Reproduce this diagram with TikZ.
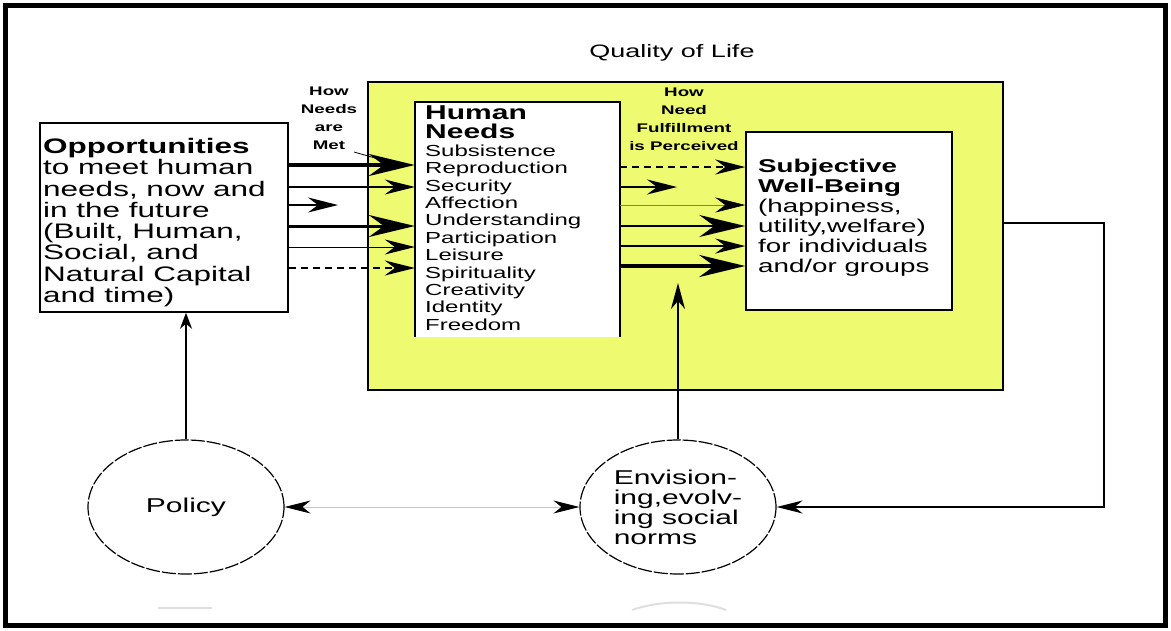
\documentclass[tikz,border=0pt]{standalone}
\usepackage{fontspec}
\setmainfont{Liberation Sans}[FakeStretch=1.5]
\usetikzlibrary{arrows.meta,shapes.geometric}
\definecolor{qolyellow}{RGB}{238,250,112}

\begin{document}
\begin{tikzpicture}[x=1pt,y=-1pt,
    box/.style={draw, line width=1.5pt, fill=white, inner sep=0pt},
    oval/.style={ellipse, draw, line width=1.2pt, dash pattern=on 14pt off 2pt,
      fill=white, minimum width=196pt, minimum height=134pt, inner sep=0pt, align=left},
    txt/.style={anchor=north west, inner sep=0pt, align=left},
    lbl/.style={font=\fontsize{12.5}{18}\selectfont\bfseries, align=center, inner sep=0pt},
    bigtip/.style={-{Stealth[length=46pt,width=22pt,inset=15pt]}},
    midtip/.style={-{Stealth[length=30pt,width=15pt,inset=10pt]}},
    smalltip/.style={-{Stealth[length=16pt,width=12pt,inset=5pt]}}]
    \useasboundingbox (0,0) rectangle (1171,630);
    % Frame
    \draw[line width=5pt] (5.5,5.5) rectangle (1165.5,625.5);
    % Faint marks at the bottom
    \draw[gray!25, line width=2pt] (158,608) -- (212,608);
    \draw[gray!25, line width=2pt] (632,610) .. controls (660,600) and (700,600) .. (726,610);
    % Quality of life area
    \node[draw, line width=1.5pt, fill=qolyellow, minimum width=635pt, minimum height=308pt, inner sep=0pt] (qol) at (685.5,236) {};
    \node[inner sep=0pt, font=\fontsize{18}{20}\selectfont] (title) at (672,53) {Quality of Life};
    % Boxes
    \node[box, minimum width=248pt, minimum height=189pt] (opp) at (164,217.5) {};
    \node[fill=white, inner sep=0pt, minimum width=205pt, minimum height=235pt] (needs) at (517.5,219.5) {};
    \draw[line width=1.5pt] (needs.south west) -- (needs.north west) -- (needs.north east) -- (needs.south east);
    \node[box, minimum width=206pt, minimum height=178pt] (swb) at (849,221) {};
    % Box texts
    \node[txt, font=\fontsize{21}{21.3}\selectfont] (opptxt) at (43,138) {%
      \textbf{Opportunities}\\to meet human\\needs, now and\\in the future\\(Built, Human,\\Social, and\\Natural Capital\\and time)};
    \node[txt, font=\fontsize{20}{19}\selectfont\bfseries] (needshd) at (425,105.5) {Human\\Needs};
    \node[txt, font=\fontsize{16}{17.4}\selectfont] (needslist) at (425,144.5) {%
      Subsistence\\Reproduction\\Security\\Affection\\Understanding\\Participation\\Leisure\\Spirituality\\Creativity\\Identity\\Freedom};
    \node[txt, font=\fontsize{18.5}{20}\selectfont] (swbtxt) at (758,158.5) {%
      \textbf{Subjective}\\\textbf{Well-Being}\\(happiness,\\utility,welfare)\\for individuals\\and/or groups};
    % Labels
    \node[lbl] (metlbl) at (329,118) {How\\Needs\\are\\Met};
    \node[lbl] (perclbl) at (684,119) {How\\Need\\Fulfillment\\is Perceived};
    % Ovals
    \node[oval, font=\fontsize{20}{20}\selectfont] (pol) at (186,507) {Policy};
    \node[oval, font=\fontsize{20}{20}\selectfont] (env) at (678,507) {Envision-\\ing,evolv-\\ing social\\norms};
    % Free ends
    \coordinate (oppshort) at (338,205);
    \coordinate (needsshort) at (677,187);
    \coordinate (metfoot) at (354,152);
    \coordinate (methead) at (382,160);
    \coordinate (envtip) at (678,283);
    \coordinate (fb) at (1104,223);
    % How needs are met
    \draw[line width=4.5pt, bigtip] (opp.east |- 0,165) -- (needs.west |- 0,165);
    \draw[line width=1.2pt, midtip] (opp.east |- 0,187) -- (needs.west |- 0,187);
    \draw[line width=1.2pt, midtip] (opp.east |- oppshort) -- (oppshort);
    \draw[line width=3pt, bigtip] (opp.east |- 0,226) -- (needs.west |- 0,226);
    \draw[line width=1pt, midtip] (opp.east |- 0,247) -- (needs.west |- 0,247);
    \draw[line width=1.2pt, dash pattern=on 7pt off 5pt, midtip] (opp.east |- 0,268) -- (needs.west |- 0,268);
    \draw[line width=0.8pt] (metfoot) -- (methead);
    % How need fulfillment is perceived
    \draw[line width=1.2pt, dash pattern=on 7pt off 5pt, midtip] (needs.east |- 0,167) -- (swb.west |- 0,167);
    \draw[line width=1.2pt, midtip] (needs.east |- needsshort) -- (needsshort);
    \draw[line width=0.6pt, gray, -{Stealth[length=30pt,width=15pt,inset=10pt,color=black]}] (needs.east |- 0,205) -- (swb.west |- 0,205);
    \draw[line width=1.8pt, bigtip] (needs.east |- 0,226) -- (swb.west |- 0,226);
    \draw[line width=1.2pt, midtip] (needs.east |- 0,246) -- (swb.west |- 0,246);
    \draw[line width=4.5pt, bigtip] (needs.east |- 0,266) -- (swb.west |- 0,266);
    % Policy, norms and feedback
    \draw[line width=1.5pt, smalltip] (pol.north) -- (pol.north |- opp.south);
    \draw[line width=1.5pt, -{Stealth[length=26pt,width=14pt,inset=8pt]}] (env.north) -- (envtip);
    \draw[gray!45, line width=0.8pt, {Stealth[length=26pt,width=13pt,inset=8pt,color=black]}-{Stealth[length=26pt,width=13pt,inset=8pt,color=black]}] (pol) -- (env);
    \draw[line width=1.5pt, -{Stealth[length=26pt,width=13pt,inset=8pt]}] (qol.east |- fb) -- (fb) |- (env.east);
\end{tikzpicture}
\end{document}
